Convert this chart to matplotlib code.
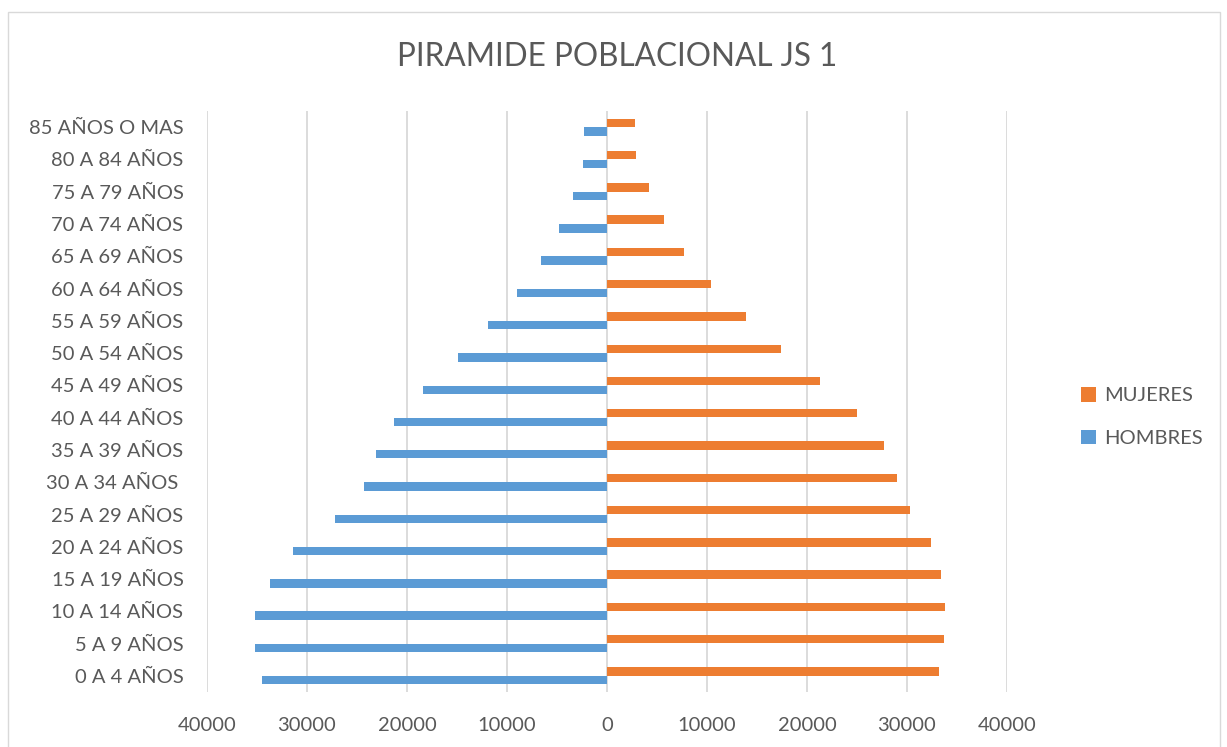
import numpy as np
import matplotlib.pyplot as plt
from matplotlib.patches import Rectangle

# Datos (de abajo hacia arriba)
grupos = ["0 A 4 AÑOS", "5 A 9 AÑOS", "10 A 14 AÑOS", "15 A 19 AÑOS", "20 A 24 AÑOS",
          "25 A 29 AÑOS", "30 A 34 AÑOS ", "35 A 39 AÑOS", "40 A 44 AÑOS", "45 A 49 AÑOS",
          "50 A 54 AÑOS", "55 A 59 AÑOS", "60 A 64 AÑOS", "65 A 69 AÑOS", "70 A 74 AÑOS",
          "75 A 79 AÑOS", "80 A 84 AÑOS", "85 AÑOS O MAS"]
hombres = [34480, 35190, 35160, 33730, 31400, 27170, 24280, 23050, 21310, 18390,
           14950, 11940, 9050, 6600, 4820, 3400, 2370, 2260]
mujeres = [33230, 33670, 33830, 33370, 32370, 30330, 28970, 27670, 24970, 21270,
           17400, 13930, 10430, 7670, 5730, 4170, 2900, 2830]
ticks = [-40000, -30000, -20000, -10000, 0, 10000, 20000, 30000, 40000]

gris = "#595959"
azul = "#5B9BD5"
naranja = "#ED7D31"
plt.rcParams["font.family"] = ["Lato", "DejaVu Sans"]

fig = plt.figure(figsize=(12.27, 7.47), dpi=100)
ax = fig.add_axes([207 / 1227, 1 - 692 / 747, 800 / 1227, 581 / 747])

y = np.arange(len(grupos))
h = 0.26
ax.barh(y + 0.135, mujeres, height=h, color=naranja, label="MUJERES", zorder=3)
ax.barh(y - 0.135, [-v for v in hombres], height=h, color=azul, label="HOMBRES", zorder=3)

ax.set_xlim(-40000, 40000)
ax.set_ylim(-0.5, len(grupos) - 0.5)
ax.set_xticks(ticks)
ax.set_xticklabels([str(abs(t)) for t in ticks])
ax.set_yticks(y)
ax.set_yticklabels(grupos)
ax.tick_params(axis="both", length=0, labelsize=14.5, colors=gris)
ax.tick_params(axis="x", pad=18)
ax.tick_params(axis="y", pad=17)
ax.grid(axis="x", color="#D9D9D9", linewidth=1.3, zorder=0)
for s in ax.spines.values():
    s.set_visible(False)

fig.text(617 / 1227, 1 - 57 / 747, "PIRAMIDE POBLACIONAL JS 1", ha="center", va="center",
         fontsize=22.7, color=gris)

leg = ax.legend(loc="center left", bbox_to_anchor=(1063 / 1227, 1 - 417 / 747),
                bbox_transform=fig.transFigure, frameon=False, fontsize=14.5,
                labelcolor=gris, handlelength=0.75, handleheight=0.75,
                handletextpad=0.4, labelspacing=1.25)

fig.patches.append(Rectangle((8 / 1227, -0.01), 1212 / 1227, 1 - 12 / 747 + 0.01,
                             transform=fig.transFigure, fill=False,
                             edgecolor="#D9D9D9", linewidth=1))

fig.savefig("out.png", dpi=100)
